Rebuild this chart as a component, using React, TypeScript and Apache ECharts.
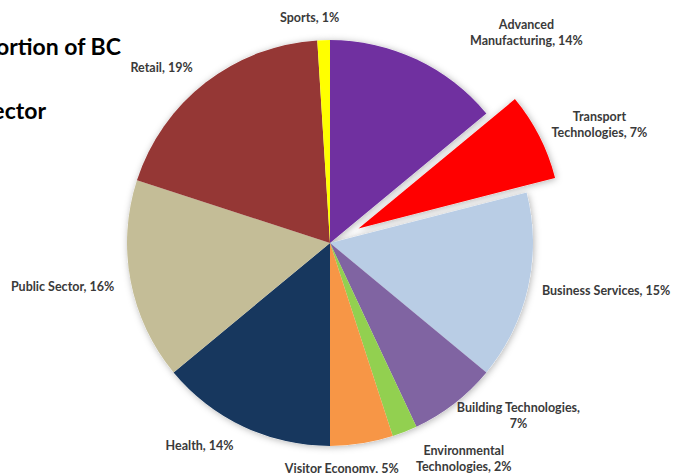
import React, { useEffect, useRef } from 'react';
import * as echarts from 'echarts';

// ---- data ----
const categories = [
  'Advanced Manufacturing',
  'Transport Technologies',
  'Business Services',
  'Building Technologies',
  'Environmental Technologies',
  'Visitor Economy',
  'Health',
  'Public Sector',
  'Retail',
  'Sports',
];
const shares = [14, 7, 15, 7, 2, 5, 14, 16, 19, 1];
const explodedCategory = 'Transport Technologies';
const titleLines = ['Proportion of BC', 'Sector'];

// ---- styling ----
const sliceColors = [
  '#7030A0', '#FF0000', '#B9CDE5', '#8064A2', '#92D050',
  '#F79646', '#17375E', '#C4BD97', '#953735', '#FFFF00',
];
// where each label wraps: 'name' = after first word, 'value' = before the value
const wrapRule: Record<string, string> = {
  'Advanced Manufacturing': 'name',
  'Transport Technologies': 'name',
  'Environmental Technologies': 'name',
  'Building Technologies': 'value',
};
// label centre offsets from the slice's outer edge midpoint
const labelNudge: [number, number][] = [
  [110, -27], [60, -12], [78, 3], [64, 12], [59, 27],
  [-20, 25], [-44, 19], [-68, 5], [-44, -15], [-14, -23],
];

const CX = 330;
const CY = 243;
const R = 203;
const FONT = 'Lato, "Open Sans", "Liberation Sans", sans-serif';

function labelText(name: string, value: number): string {
  const rule = wrapRule[name];
  if (rule === 'name') {
    const i = name.indexOf(' ');
    return name.slice(0, i) + '\n' + name.slice(i + 1) + ', ' + value + '%';
  }
  if (rule === 'value') return name + ',\n' + value + '%';
  return name + ', ' + value + '%';
}

export default function App() {
  const ref = useRef<HTMLDivElement>(null);
  useEffect(() => {
    document.body.style.margin = '0';
    if (!ref.current) return;
    const chart = echarts.init(ref.current, undefined, { renderer: 'svg' });
    const data = categories.map((c, i) => ({
      name: c,
      value: shares[i],
      selected: c === explodedCategory,
      itemStyle: { color: sliceColors[i] },
    }));
    const shadowData = categories.map((c, i) => ({
      name: c,
      value: shares[i],
      selected: c === explodedCategory,
      itemStyle: { color: '#ffffff' },
    }));
    chart.setOption({
      animation: false,
      backgroundColor: '#ffffff',
      graphic: [
        {
          type: 'text',
          x: 121,
          y: 46,
          style: {
            text: titleLines[0],
            align: 'right',
            verticalAlign: 'middle',
            fill: '#000000',
            font: 'bold 23px ' + FONT,
          },
        },
        {
          type: 'text',
          x: 46,
          y: 110,
          style: {
            text: titleLines[1],
            align: 'right',
            verticalAlign: 'middle',
            fill: '#000000',
            font: 'bold 23px ' + FONT,
          },
        },
      ],
      series: [
        {
          type: 'pie',
          z: 1,
          silent: true,
          center: [CX, CY],
          radius: R,
          startAngle: 90,
          clockwise: true,
          selectedMode: 'single',
          selectedOffset: 32,
          avoidLabelOverlap: false,
          label: { show: false },
          labelLine: { show: false },
          emphasis: { disabled: true },
          itemStyle: {
            shadowBlur: 7,
            shadowColor: 'rgba(0,0,0,0.3)',
            shadowOffsetX: 1,
            shadowOffsetY: 1,
          },
          data: shadowData,
        },
        {
          type: 'pie',
          z: 2,
          silent: true,
          center: [CX, CY],
          radius: R,
          startAngle: 90,
          clockwise: true,
          selectedMode: 'single',
          selectedOffset: 32,
          avoidLabelOverlap: false,
          emphasis: { disabled: true },
          label: {
            show: true,
            position: 'outside',
            distanceToLabelLine: 0,
            color: '#3a3a3a',
            fontFamily: FONT,
            fontWeight: 'bold',
            fontSize: 12.5,
            lineHeight: 16,
            formatter: (p: any) => labelText(p.name, p.value),
          },
          labelLine: { show: false, length: 0, length2: 0 },
          labelLayout: (p: any) => ({
            align: 'center',
            verticalAlign: 'middle',
            dx: labelNudge[p.dataIndex][0],
            dy: labelNudge[p.dataIndex][1],
          }),
          data,
        },
      ],
    });
    return () => chart.dispose();
  }, []);
  return <div ref={ref} style={{ width: 677, height: 473 }} />;
}
